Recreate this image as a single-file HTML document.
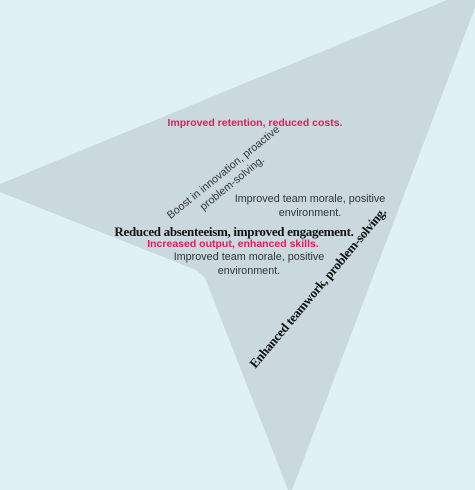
<!DOCTYPE html>
<html><head><meta charset="utf-8"><style>
html,body{margin:0;padding:0;}
body{width:475px;height:490px;background:#e0f1f5;position:relative;overflow:hidden;font-family:"Liberation Sans",sans-serif;}
svg{position:absolute;left:0;top:0;}
.t{position:absolute;white-space:nowrap;text-align:center;transform:translate(-50%,-50%);}
.pink{color:#e8185a;font-weight:bold;font-size:10.5px;}
.gray{color:#333;font-size:10.8px;line-height:14px;}
.serif{font-family:"Liberation Serif",serif;font-weight:bold;color:#111;font-size:13px;letter-spacing:-0.3px;}
</style></head><body>
<svg width="475" height="490">
<polygon points="0,184 447,0 475,0 475,8 292,490 288,490 205,278 196,270 0,192" fill="#c9d9de"/>
</svg>
<div class="t pink" style="left:255px;top:123px">Improved retention, reduced costs.</div>
<div class="t gray" style="left:228px;top:178px;transform:translate(-50%,-50%) rotate(-39deg)">Boost in innovation, proactive<br>problem-solving.</div>
<div class="t gray" style="left:310px;top:206px">Improved team morale, positive<br>environment.</div>
<div class="t serif" style="left:234px;top:232px">Reduced absenteeism, improved engagement.</div>
<div class="t pink" style="left:233px;top:244px">Increased output, enhanced skills.</div>
<div class="t gray" style="left:249px;top:264px">Improved team morale, positive<br>environment.</div>
<div class="t serif" style="left:318px;top:288px;transform:translate(-50%,-50%) rotate(-50deg)">Enhanced teamwork, problem-solving.</div>
</body></html>
